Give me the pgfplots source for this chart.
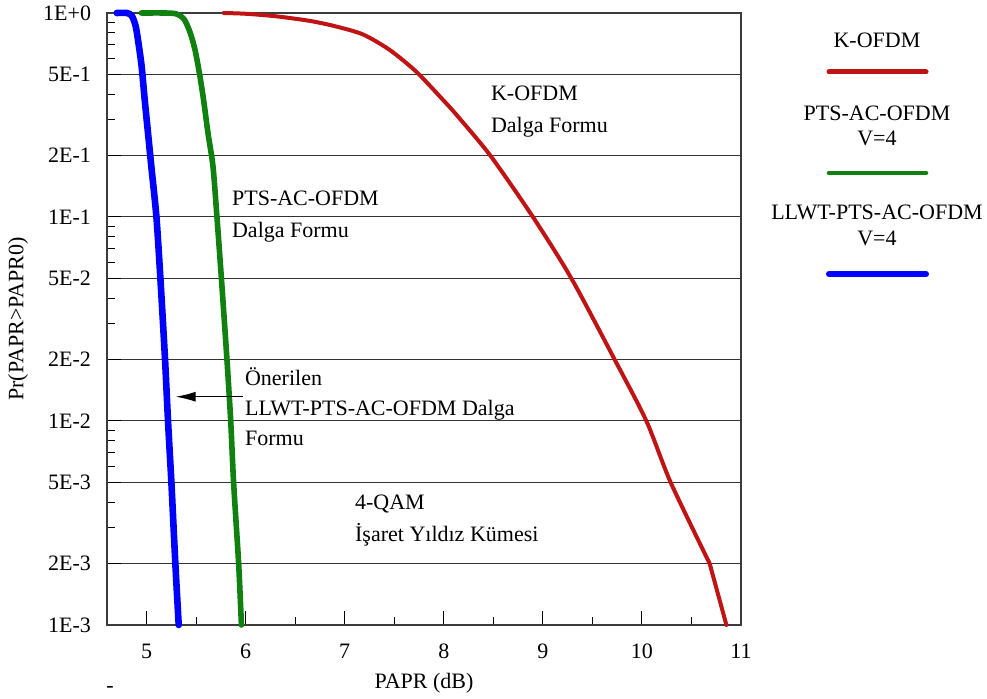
\documentclass[border=0pt]{standalone}
\usepackage{fontspec}
\setmainfont{Liberation Serif}
\usepackage{pgfplots}
\pgfplotsset{compat=1.18}
\usetikzlibrary{arrows.meta}

\definecolor{kred}{RGB}{192,20,20}
\definecolor{kgreen}{RGB}{16,128,16}
\definecolor{kblue}{RGB}{0,0,255}
\definecolor{framec}{RGB}{60,60,60}

\begin{document}
\fontsize{11}{15}\selectfont
\begin{tikzpicture}[font=\fontsize{11}{15}\selectfont]
\path[use as bounding box] (-53.5pt,-37pt) rectangle (440pt,312.5pt);
\begin{axis}[
  at={(0,0)}, anchor=south west,
  scale only axis, width=317pt, height=306pt,
  xmin=4.6, xmax=11, ymin=1e-3, ymax=1,
  ymode=log,
  xtick={5,6,7,8,9,10,11}, minor x tick num=1,
  ytick={0.001,0.002,0.005,0.01,0.02,0.05,0.1,0.2,0.5,1},
  yticklabels={1E-3,2E-3,5E-3,1E-2,2E-2,5E-2,1E-1,2E-1,5E-1,1E+0},
  minor ytick={0.003,0.004,0.006,0.007,0.008,0.009,0.03,0.04,0.06,0.07,0.08,0.09,0.3,0.4,0.6,0.7,0.8,0.9},
  tick align=inside, xtick pos=bottom, ytick pos=left,
  major tick length=7pt, minor tick length=3.8pt,
  ymajorgrids, grid style={black!80, line width=0.5pt},
  axis line style={framec, line width=0.6pt},
  every tick/.style={black, line width=0.5pt},
  /pgf/number format/assume math mode=true,
  xticklabel style={anchor=north, inner sep=0pt, yshift=-9.2pt},
  yticklabel style={anchor=east, inner sep=0pt, xshift=-7.8pt},
  xlabel={PAPR (dB)}, ylabel={Pr(PAPR>PAPR0)},
  xlabel style={at={(axis description cs:0.5,-0.0948)}, anchor=center},
  ylabel style={at={(axis description cs:-0.1404,0.5)}, anchor=center},
  clip=false,
]
% K-OFDM
\addplot[kred, line width=2pt, line cap=round, line join=round, smooth, tension=0.45] coordinates {
 (5.778,1.0) (6.007,0.991) (6.310,0.963) (6.646,0.915) (6.900,0.862)
 (7.184,0.785) (7.454,0.659) (7.723,0.515) (7.992,0.375) (8.130,0.316)
 (8.470,0.2) (8.900,0.1) (9.288,0.05) (9.725,0.02) (10.045,0.01)
 (10.290,0.005) (10.684,0.002)
};
\addplot[kred, line width=2pt, line cap=round, line join=round] coordinates {
 (10.684,0.002) (10.853,0.001)
};
% PTS-AC-OFDM V=4
\addplot[kgreen, line width=2.8pt, line cap=round, line join=round, smooth, tension=0.45] coordinates {
 (4.947,1.0) (5.182,1.0) (5.300,0.99) (5.380,0.93) (5.440,0.80) (5.490,0.655)
 (5.536,0.497) (5.575,0.375) (5.620,0.257) (5.670,0.177) (5.710,0.1)
 (5.755,0.05) (5.811,0.02) (5.849,0.01) (5.878,0.005) (5.929,0.002)
 (5.957,0.001)
};
% LLWT-PTS-AC-OFDM V=4
\addplot[kblue, line width=3.3pt, line cap=round, line join=round, smooth, tension=0.45] coordinates {
 (4.698,1.0) (4.800,1.0) (4.850,0.97) (4.890,0.86) (4.920,0.70) (4.950,0.545)
 (4.981,0.375) (5.014,0.258) (5.048,0.176) (5.099,0.1) (5.139,0.05)
 (5.186,0.02) (5.216,0.01) (5.250,0.005) (5.290,0.002) (5.324,0.001)
};

\node[anchor=west, align=left, inner sep=0pt] at (axis cs:8.473,0.327) {K-OFDM\\[1pt]Dalga Formu};
\node[anchor=west, align=left, inner sep=0pt] at (axis cs:5.859,0.1006) {PTS-AC-OFDM\\[1pt]Dalga Formu};
\node[anchor=west, align=left, inner sep=0pt] at (axis cs:5.990,0.01178) {Önerilen\\LLWT-PTS-AC-OFDM Dalga\\Formu};
\node[anchor=west, align=left, inner sep=0pt] at (axis cs:7.101,0.003235) {4-QAM\\[1pt]İşaret Yıldız Kümesi};
\draw[-{Latex[length=10pt,width=5pt]}, line width=0.6pt] (axis cs:5.973,0.01315) -- (axis cs:5.2935,0.01315);
\end{axis}

% legend
\node at (385pt,292.5pt) {K-OFDM};
\draw[kred, line width=2.5pt, line cap=round] (361pt,276.5pt) -- (409.5pt,276.5pt);
\node at (385pt,256pt) {PTS-AC-OFDM};
\node at (385pt,243.5pt) {V=4};
\draw[kgreen, line width=2.3pt, line cap=round] (361pt,226pt) -- (409.5pt,226pt);
\node at (385pt,206.5pt) {LLWT-PTS-AC-OFDM};
\node at (385pt,193.5pt) {V=4};
\draw[kblue, line width=3pt, line cap=round] (361pt,175.5pt) -- (409.5pt,175.5pt);

\node at (1.5pt,-32.5pt) {-};
\end{tikzpicture}
\end{document}
